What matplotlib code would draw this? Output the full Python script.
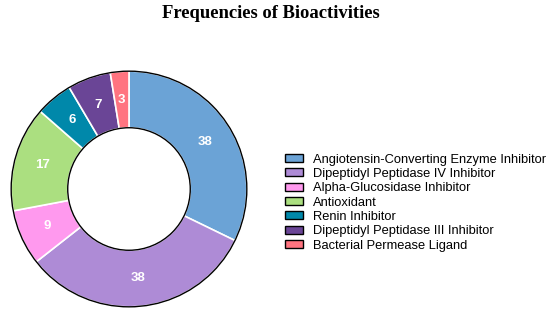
import matplotlib.pyplot as plt
from matplotlib.patches import Circle
import numpy as np

labels = ['Angiotensin-Converting Enzyme Inhibitor', 'Dipeptidyl Peptidase IV Inhibitor',
          'Alpha-Glucosidase Inhibitor', 'Antioxidant', 'Renin Inhibitor',
          'Dipeptidyl Peptidase III Inhibitor', 'Bacterial Permease Ligand']
counts = [38, 38, 9, 17, 6, 7, 3]
colors = ['#6ba3d6', '#ae8bd6', '#ff99ee', '#abdf80', '#0088aa', '#6a4596', '#ff7480']

W, H = 550, 321
fig = plt.figure(figsize=(W / 100, H / 100), dpi=100)
cx, cy, r = 129, 321 - 189, 119
ax = fig.add_axes([(cx - r) / W, (cy - r) / H, 2 * r / W, 2 * r / H])

inner = 0.52
wedges, _ = ax.pie(counts, colors=colors, startangle=90, counterclock=False, radius=1,
                   wedgeprops=dict(width=1 - inner, edgecolor='white', linewidth=1.2))
ax.add_patch(Circle((0, 0), 1, fill=False, edgecolor='black', linewidth=1))
ax.add_patch(Circle((0, 0), inner, fill=False, edgecolor='black', linewidth=1))

total = sum(counts)
start = 90
for n in counts:
    mid = np.deg2rad(start - 360 * n / total / 2)
    rr = 0.76
    ax.text(rr * np.cos(mid), rr * np.sin(mid), str(n), ha='center', va='center',
            color='white', fontsize=9.5, fontweight='bold', family='Liberation Sans')
    start -= 360 * n / total

ax.set_xlim(-1.01, 1.01)
ax.set_ylim(-1.01, 1.01)
ax.set_aspect('equal')
ax.axis('off')

fig.text(271 / W, 1 - 14 / H, 'Frequencies of Bioactivities', ha='center', va='center',
         fontsize=13.4, fontweight='bold', family='Liberation Serif')

leg = fig.legend(wedges, labels, loc='upper left', bbox_to_anchor=(273 / W, 1 - 142 / H),
                 frameon=False, prop={'family': 'Liberation Sans', 'size': 9.3},
                 handlelength=1.4, handleheight=0.6, handletextpad=0.8, labelspacing=0.18)
for h in leg.legend_handles:
    h.set_edgecolor('black')
    h.set_linewidth(1)

fig.savefig('out.png', dpi=100)
